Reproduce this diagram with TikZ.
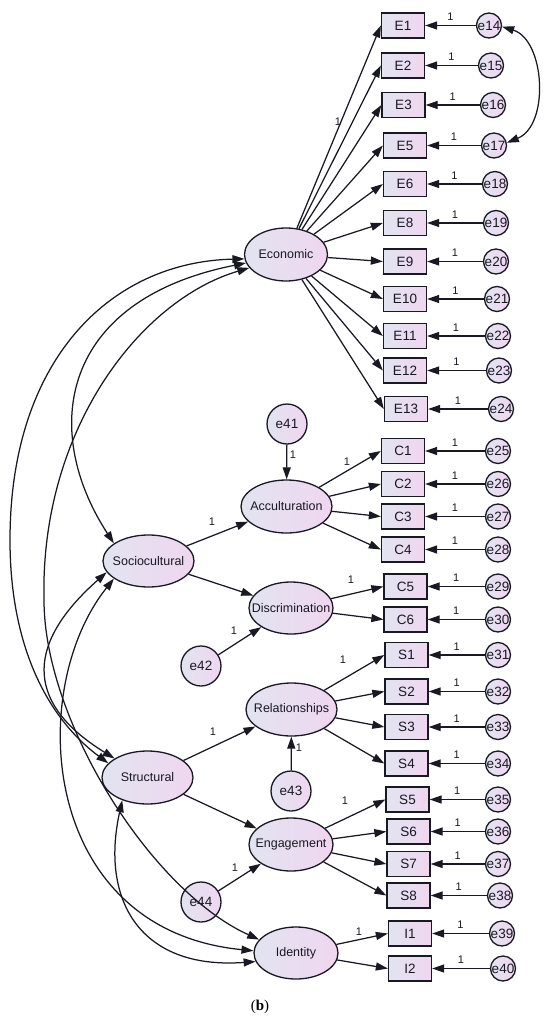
\documentclass[tikz,border=0pt]{standalone}
\usepackage{fontspec}
\setmainfont{Liberation Sans}
\newfontfamily\capserif{Liberation Serif}
\usetikzlibrary{arrows.meta,shapes.geometric}
\definecolor{gl}{RGB}{226,228,240}
\definecolor{gr}{RGB}{240,214,240}
\definecolor{ink}{RGB}{25,25,35}
\begin{document}
\begin{tikzpicture}[x=1pt,y=-1pt,
 base/.style={draw=ink,line width=1.3pt,left color=gl,right color=gr,text=ink,inner sep=0pt},
 lat/.style={base,ellipse,font=\fontsize{12.5}{14}\selectfont},
 obs/.style={base,rectangle,minimum width=43pt,minimum height=25pt,font=\fontsize{13.5}{15}\selectfont},
 err/.style={base,circle,minimum size=25pt,font=\fontsize{13.5}{15}\selectfont},
 errb/.style={base,circle,minimum size=40pt,font=\fontsize{13.5}{15}\selectfont},
 arr/.style={draw=ink,line width=1.25pt,-{Triangle[length=12pt,width=8pt]}},
 dbl/.style={draw=ink,line width=1.25pt,{Triangle[length=12pt,width=8pt]}-{Triangle[length=12pt,width=8pt]}},
 one/.style={font=\fontsize{11}{12}\selectfont,text=ink,inner sep=1pt},
]
\useasboundingbox (0,0) rectangle (550,1022);

% latent variables
\node[lat,minimum width=83pt,minimum height=53pt] (eco) at (286,254.5) {\makebox[0pt]{Economic}};
\node[lat,minimum width=91pt,minimum height=52pt] (soc) at (148.5,561) {\makebox[0pt]{Sociocultural}};
\node[lat,minimum width=91pt,minimum height=53pt] (acc) at (286.5,506.5) {\makebox[0pt]{Acculturation}};
\node[lat,minimum width=84pt,minimum height=52pt] (disc) at (291,608) {\makebox[0pt]{Discrimination}};
\node[lat,minimum width=91pt,minimum height=53pt] (str) at (147.5,777.5) {\makebox[0pt]{Structural}};
\node[lat,minimum width=91pt,minimum height=53pt] (rel) at (291.5,709.5) {\makebox[0pt]{Relationships}};
\node[lat,minimum width=84pt,minimum height=53pt] (eng) at (291,844.5) {\makebox[0pt]{Engagement}};
\node[lat,minimum width=84pt,minimum height=52pt] (id) at (296,953) {\makebox[0pt]{Identity}};

% structural errors
\node[errb] (e41) at (287,424) {\makebox[0pt]{e41}};
\node[errb] (e42) at (201,666) {\makebox[0pt]{e42}};
\node[errb] (e43) at (291,791) {\makebox[0pt]{e43}};
\node[errb] (e44) at (201,902) {\makebox[0pt]{e44}};

% indicators with their errors
\foreach \n/\x/\y/\e/\ex in {
 E1/403/25.5/e14/489, E2/403/65.5/e15/491, E3/403.5/105/e16/493,
 E5/405/145.5/e17/494, E6/405/184/e18/495, E8/405/223/e19/496,
 E9/405/261.5/e20/496, E10/405/299/e21/497, E11/405/336/e22/498,
 E12/405/370.5/e23/499, E13/406/409/e24/501,
 C1/403/451/e25/498, C2/403/484/e26/498, C3/403/516.5/e27/498,
 C4/403/549.5/e28/498, C5/405.5/586.5/e29/498, C6/405.5/619.5/e30/498,
 S1/406.5/655/e31/498, S2/406.5/691.5/e32/498, S3/406.5/727/e33/498,
 S4/406.5/763.5/e34/498, S5/407.5/799.5/e35/498, S6/408.5/831.5/e36/498,
 S7/408.5/864/e37/498, S8/408.5/895.5/e38/500,
 I1/410/933.5/e39/502, I2/410/968.5/e40/503}
{
 \node[obs] (\n) at (\x,\y) {\n};
 \node[err] (\e) at (\ex,\y) {\makebox[0pt]{\e}};
 \draw[arr] (\e) -- node[one,above=3pt]{1} (\n.east);
}

% loadings
\foreach \n in {E1,E2,E3,E5,E6,E8,E9,E10,E11,E12,E13} \draw[arr] (eco) -- (\n.west);
\foreach \n in {C1,C2,C3,C4} \draw[arr] (acc) -- (\n.west);
\foreach \n in {C5,C6} \draw[arr] (disc) -- (\n.west);
\foreach \n in {S1,S2,S3,S4} \draw[arr] (rel) -- (\n.west);
\foreach \n in {S5,S6,S7,S8} \draw[arr] (eng) -- (\n.west);
\foreach \n in {I1,I2} \draw[arr] (id) -- (\n.west);
\draw[arr] (soc) -- (acc);
\draw[arr] (soc) -- (disc);
\draw[arr] (str) -- (rel);
\draw[arr] (str) -- (eng);
\draw[arr] (e41) -- (acc);
\draw[arr] (e42) -- (disc);
\draw[arr] (e43) -- (rel);
\draw[arr] (e44) -- (eng);

% fixed-loading labels
\node[one] (l1) at (338,122) {1};
\node[one] (l2) at (212,522) {1};
\node[one] (l3) at (347,462) {1};
\node[one] (l4) at (351,580) {1};
\node[one] (l5) at (293,455) {1};
\node[one] (l6) at (234,631) {1};
\node[one] (l7) at (343,660) {1};
\node[one] (l8) at (213,732) {1};
\node[one] (l9) at (299,748) {1};
\node[one] (l10) at (345,801) {1};
\node[one] (l11) at (235,868) {1};
\node[one] (l12) at (359,932) {1};

% covariances
\draw[dbl] (e14.-5) .. controls (545,40) and (550,125) .. (e17.12);
\draw[dbl] (eco.186) .. controls (110,262) and (10,360) .. (10,540) .. controls (10,650) and (50,720) .. (str.160);
\draw[dbl] (eco.192) .. controls (60,300) and (40,430) .. (soc.153);
\draw[dbl] (eco.200) .. controls (140,300) and (40,430) .. (44,600) .. controls (44,720) and (150,890) .. (id.160);
\draw[dbl] (soc.195) .. controls (30,640) and (20,700) .. (str.150);
\draw[dbl] (soc.207) .. controls (25,690) and (40,930) .. (id.177);
\draw[dbl] (str.222) .. controls (100,900) and (140,970) .. (id.192);

\node (cap) at (260,1007) {\capserif\fontsize{15}{17}\selectfont (\textbf{b})};
\end{tikzpicture}
\end{document}
